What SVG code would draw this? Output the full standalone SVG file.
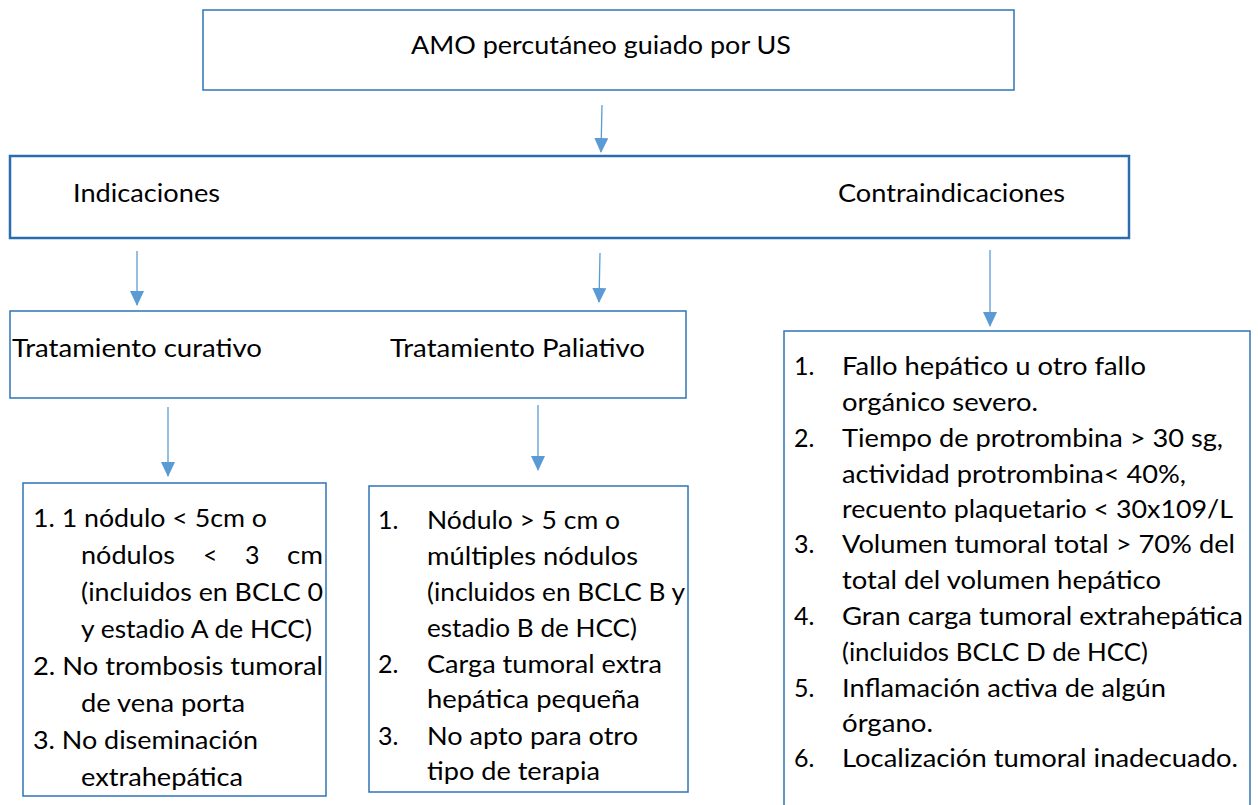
<svg xmlns="http://www.w3.org/2000/svg" width="1258" height="805" viewBox="0 0 1258 805">
<defs>
<style>
.box{fill:#ffffff;stroke:#2e75b6;stroke-width:1.5}
.boxb{fill:#ffffff;stroke:#2a6cad;stroke-width:2.5}
.t{font-family:Lato,"Open Sans","Liberation Sans",sans-serif;font-size:25px;fill:#000000}
.c{stroke:#5b9bd5;stroke-width:1.3;fill:none}
</style>
<marker id="ah" markerUnits="userSpaceOnUse" markerWidth="15" markerHeight="16" refX="14" refY="7" orient="auto" viewBox="0 0 15 14">
<path d="M0,0 L15,7 L0,14 Z" fill="#5b9bd5"/>
</marker>
</defs>
<rect width="1258" height="805" fill="#ffffff"/>
<g id="connectors">
<line class="c" x1="602" y1="105" x2="601" y2="152" marker-end="url(#ah)"/>
<line class="c" x1="137" y1="251" x2="137" y2="305" marker-end="url(#ah)"/>
<line class="c" x1="600" y1="253" x2="599" y2="302" marker-end="url(#ah)"/>
<line class="c" x1="990" y1="250" x2="990" y2="326" marker-end="url(#ah)"/>
<line class="c" x1="168" y1="407" x2="168" y2="476" marker-end="url(#ah)"/>
<line class="c" x1="538" y1="405" x2="538" y2="470" marker-end="url(#ah)"/>
</g>
<g id="node-amo">
<rect class="box" x="203" y="10" width="811" height="80"/>
<text class="t" x="411" y="54" textLength="380" lengthAdjust="spacingAndGlyphs">AMO percutáneo guiado por US</text>
</g>
<g id="node-indicaciones">
<rect class="boxb" x="10" y="156" width="1119" height="82"/>
<text class="t" x="73" y="202" textLength="147" lengthAdjust="spacingAndGlyphs">Indicaciones</text>
<text class="t" x="838" y="202" textLength="227" lengthAdjust="spacingAndGlyphs">Contraindicaciones</text>
</g>
<g id="node-tratamiento">
<rect class="box" x="10" y="311" width="676" height="87"/>
<text class="t" x="12" y="357" textLength="250" lengthAdjust="spacingAndGlyphs">Tratamiento curativo</text>
<text class="t" x="390" y="357" textLength="255" lengthAdjust="spacingAndGlyphs">Tratamiento Paliativo</text>
</g>
<g id="node-curativo">
<rect class="box" x="23" y="483" width="303" height="313"/>
<text class="t" x="33" y="527" textLength="234" lengthAdjust="spacingAndGlyphs">1. 1 nódulo &lt; 5cm o</text>
<text class="t" x="81" y="564" textLength="94" lengthAdjust="spacingAndGlyphs">nódulos</text>
<text class="t" x="203" y="564">&lt;</text>
<text class="t" x="245" y="564">3</text>
<text class="t" x="287" y="564" textLength="36" lengthAdjust="spacingAndGlyphs">cm</text>
<text class="t" x="81" y="601" textLength="242" lengthAdjust="spacingAndGlyphs">(incluidos en BCLC 0</text>
<text class="t" x="81" y="638" textLength="231" lengthAdjust="spacingAndGlyphs">y estadio A de HCC)</text>
<text class="t" x="33" y="675" textLength="290" lengthAdjust="spacingAndGlyphs">2. No trombosis tumoral</text>
<text class="t" x="81" y="712" textLength="164" lengthAdjust="spacingAndGlyphs">de vena porta</text>
<text class="t" x="33" y="749" textLength="225" lengthAdjust="spacingAndGlyphs">3. No diseminación</text>
<text class="t" x="81" y="786" textLength="162" lengthAdjust="spacingAndGlyphs">extrahepática</text>
</g>
<g id="node-paliativo">
<rect class="box" x="369" y="486" width="319" height="306"/>
<text class="t" x="378" y="529">1.</text>
<text class="t" x="427" y="529" textLength="193" lengthAdjust="spacingAndGlyphs">Nódulo &gt; 5 cm o</text>
<text class="t" x="427" y="565" textLength="211" lengthAdjust="spacingAndGlyphs">múltiples nódulos</text>
<text class="t" x="427" y="601" textLength="258" lengthAdjust="spacingAndGlyphs">(incluidos en BCLC B y</text>
<text class="t" x="427" y="637" textLength="210" lengthAdjust="spacingAndGlyphs">estadio B de HCC)</text>
<text class="t" x="378" y="673">2.</text>
<text class="t" x="427" y="673" textLength="235" lengthAdjust="spacingAndGlyphs">Carga tumoral extra</text>
<text class="t" x="427" y="708" textLength="213" lengthAdjust="spacingAndGlyphs">hepática pequeña</text>
<text class="t" x="378" y="745">3.</text>
<text class="t" x="427" y="745" textLength="211" lengthAdjust="spacingAndGlyphs">No apto para otro</text>
<text class="t" x="427" y="780" textLength="173" lengthAdjust="spacingAndGlyphs">tipo de terapia</text>
</g>
<g id="node-contraindicaciones">
<rect class="box" x="784" y="331" width="466" height="500"/>
<text class="t" x="794" y="375">1.</text>
<text class="t" x="842" y="375" textLength="304" lengthAdjust="spacingAndGlyphs">Fallo hepático u otro fallo</text>
<text class="t" x="842" y="411" textLength="196" lengthAdjust="spacingAndGlyphs">orgánico severo.</text>
<text class="t" x="794" y="447">2.</text>
<text class="t" x="842" y="447" textLength="381" lengthAdjust="spacingAndGlyphs">Tiempo de protrombina &gt; 30 sg,</text>
<text class="t" x="842" y="483" textLength="344" lengthAdjust="spacingAndGlyphs">actividad protrombina&lt; 40%,</text>
<text class="t" x="842" y="518" textLength="391" lengthAdjust="spacingAndGlyphs">recuento plaquetario &lt; 30x109/L</text>
<text class="t" x="794" y="553">3.</text>
<text class="t" x="842" y="553" textLength="393" lengthAdjust="spacingAndGlyphs">Volumen tumoral total &gt; 70% del</text>
<text class="t" x="842" y="589" textLength="319" lengthAdjust="spacingAndGlyphs">total del volumen hepático</text>
<text class="t" x="794" y="625">4.</text>
<text class="t" x="842" y="625" textLength="401" lengthAdjust="spacingAndGlyphs">Gran carga tumoral extrahepática</text>
<text class="t" x="842" y="661" textLength="306" lengthAdjust="spacingAndGlyphs">(incluidos BCLC D de HCC)</text>
<text class="t" x="794" y="697">5.</text>
<text class="t" x="842" y="697" textLength="324" lengthAdjust="spacingAndGlyphs">Inflamación activa de algún</text>
<text class="t" x="842" y="732" textLength="91" lengthAdjust="spacingAndGlyphs">órgano.</text>
<text class="t" x="794" y="767">6.</text>
<text class="t" x="842" y="767" textLength="396" lengthAdjust="spacingAndGlyphs">Localización tumoral inadecuado.</text>
</g>
</svg>
